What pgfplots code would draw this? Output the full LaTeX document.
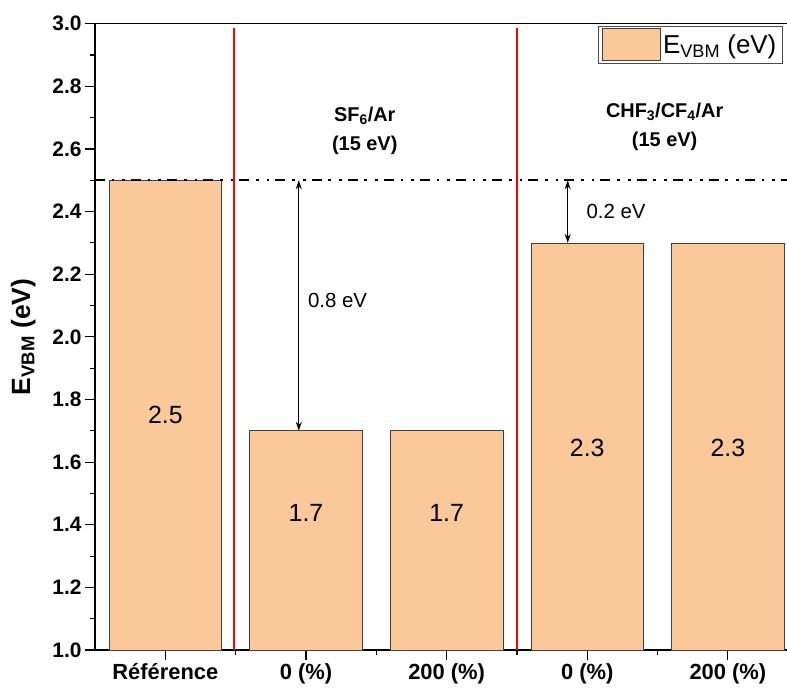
\documentclass[border=0pt]{standalone}
\usepackage{pgfplots}
\pgfplotsset{compat=1.18}
\usetikzlibrary{arrows.meta}
\usepackage{fontspec}
\setmainfont{Liberation Sans}
\definecolor{barfill}{RGB}{251,200,153}
\definecolor{sepred}{RGB}{255,0,0}
\begin{document}
\begin{tikzpicture}[x=1bp,y=1bp]
\begin{axis}[
  at={(0,0)}, anchor=south west,
  scale only axis, width=692bp, height=626.3bp,
  xmin=-0.5, xmax=4.42, ymin=1, ymax=3,
  axis x line*=box, axis y line*=left,
  axis line style={line width=1.1bp},
  xtick pos=left, ytick pos=left,
  tick align=outside,
  major tick length=10bp, minor tick length=5bp,
  every tick/.style={black, line width=1.1bp},
  xtick={0,1,2,3,4},
  xticklabels={Référence, 0 (\%), 200 (\%), 0 (\%), 200 (\%)},
  minor xtick={1.5,3.5},
  ytick={1,1.2,1.4,1.6,1.8,2,2.2,2.4,2.6,2.8,3},
  minor ytick={1.1,1.3,1.5,1.7,1.9,2.1,2.3,2.5,2.7,2.9},
  /pgf/number format/assume math mode=true,
  yticklabel style={font=\fontsize{21}{24}\selectfont\bfseries,
    /pgf/number format/fixed, /pgf/number format/fixed zerofill, /pgf/number format/precision=1},
  xticklabel style={font=\fontsize{22}{24}\selectfont\bfseries},
  ylabel={E\textsubscript{VBM} (eV)},
  ylabel style={font=\fontsize{26.5}{30}\selectfont\bfseries},
  ylabel shift=10bp,
  legend style={at={(axis description cs:1,1)}, anchor=north east, xshift=-4.3bp, yshift=-2.3bp,
    draw=black!70, line width=0.8bp, font=\fontsize{26}{30}\selectfont, inner xsep=4bp, inner ysep=2bp},
  clip=false,
]
\addplot[ybar, bar width=0.8, fill=barfill, draw=black!75, line width=0.7bp,
  legend image code/.code={\draw[##1] (0bp,-16bp) rectangle (58bp,16bp);}]
  coordinates {(0,2.5) (1,1.7) (2,1.7) (3,2.3) (4,2.3)};
\addlegendentry{E\textsubscript{VBM} (eV)}
\addplot[color=sepred, line width=1.5bp, forget plot] coordinates {(0.49,1) (0.49,2.985)};
\addplot[color=sepred, line width=1.5bp, forget plot] coordinates {(2.5,1) (2.5,2.985)};
\addplot[black, line width=1.8bp, dash pattern=on 10bp off 6.7bp on 2.7bp off 8bp on 2.7bp off 6bp, forget plot]
  coordinates {(-0.5,2.5) (4.42,2.5)};
\addplot[black, line width=1.3bp, {Stealth[length=9bp,width=6bp]}-{Stealth[length=9bp,width=6bp]}, forget plot]
  coordinates {(0.949,2.5) (0.949,1.7)};
\addplot[black, line width=1.3bp, {Stealth[length=9bp,width=6bp]}-{Stealth[length=9bp,width=6bp]}, forget plot]
  coordinates {(2.861,2.5) (2.861,2.3)};
\draw[black, line width=1.1bp] (axis cs:0.5,1) -- ([yshift=-5bp]axis cs:0.5,1);
\draw[black, line width=1.1bp] (axis cs:2.5,1) -- ([yshift=-5bp]axis cs:2.5,1);
\node[font=\fontsize{25}{28}\selectfont] at (axis cs:0,1.75) {2.5};
\node[font=\fontsize{25}{28}\selectfont] at (axis cs:1,1.437) {1.7};
\node[font=\fontsize{25}{28}\selectfont] at (axis cs:2,1.437) {1.7};
\node[font=\fontsize{25}{28}\selectfont] at (axis cs:3,1.645) {2.3};
\node[font=\fontsize{25}{28}\selectfont] at (axis cs:4,1.645) {2.3};
\node[font=\fontsize{20}{29}\selectfont\bfseries, align=center] at (axis cs:1.418,2.659) {SF\textsubscript{6}/Ar\\(15 eV)};
\node[font=\fontsize{20}{29}\selectfont\bfseries, align=center] at (axis cs:3.55,2.670) {CHF\textsubscript{3}/CF\textsubscript{4}/Ar\\(15 eV)};
\node[font=\fontsize{20.5}{24}\selectfont, anchor=west] at (axis cs:0.99,2.117) {0.8 eV};
\node[font=\fontsize{20.5}{24}\selectfont, anchor=west] at (axis cs:2.97,2.40) {0.2 eV};
\end{axis}
\pgfresetboundingbox
\useasboundingbox (-95bp,-38bp) rectangle (692bp,650bp);
\end{tikzpicture}
\end{document}
